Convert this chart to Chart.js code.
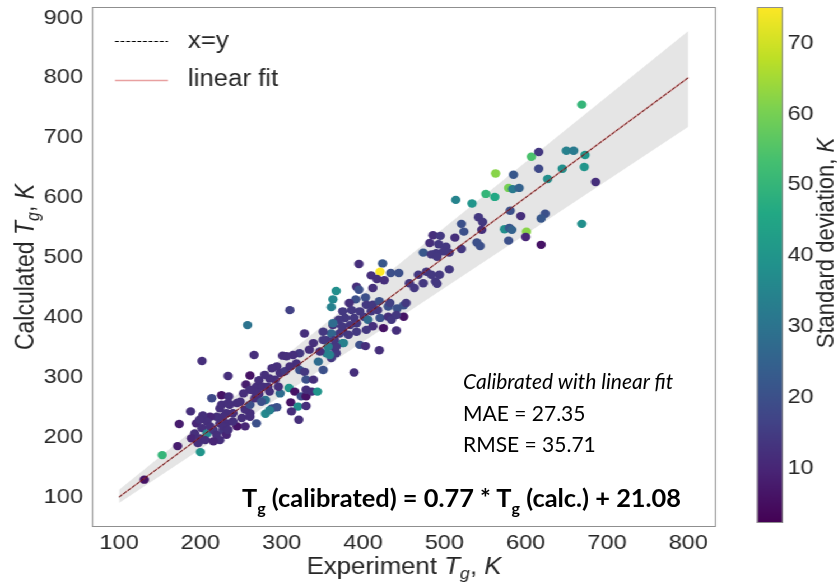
<!DOCTYPE html>
<html>
<head>
<meta charset="utf-8">
<script src="https://cdn.jsdelivr.net/npm/chart.js@4.4.1/dist/chart.umd.min.js"></script>
<style>
    html, body { margin: 0; padding: 0; background: #fff; }
    body { width: 838px; height: 584px; position: relative; overflow: hidden; }
    /* the matplotlib part of the figure is stretched sideways, so draw narrow and scale */
    #stretch { position: absolute; left: 0; top: 0; width: 748px; height: 584px; transform: scaleX(1.1203); transform-origin: 0 0; }
    #stretch canvas { position: absolute; left: 0; top: 0; }
    .note { position: absolute; font-family: Lato, 'Open Sans', sans-serif; color: #000; white-space: nowrap; height: 30px; line-height: 30px; }
    .sub { font-size: 16px; position: relative; top: 7px; }
</style>
</head>
<body>
<div id="stretch">
    <canvas id="plot" width="748" height="584"></canvas>
    <canvas id="cbar" width="748" height="584"></canvas>
</div>
<div class="note" style="left:463px; top:366px; font-size:21px; font-style:italic;">Calibrated with linear fit</div>
<div class="note" style="left:463px; top:398px; font-size:21px;">MAE = 27.35</div>
<div class="note" style="left:463px; top:429px; font-size:21px;">RMSE = 35.71</div>
<div class="note" style="left:242px; top:482px; font-size:25.4px; font-weight:bold;">T<span class="sub">g</span> (calibrated) = 0.77 * T<span class="sub">g</span> (calc.) + 21.08</div>
<script>
// Experiment Tg (x), calculated Tg (y), standard deviation (colour)
const expTg = [
    131, 153, 200, 172, 174, 188, 214, 226, 235, 256, 269, 280, 280, 269, 261, 245, 251, 245, 232, 224,
    220, 212, 203, 208, 195, 202, 193, 189, 199, 208, 206, 216, 220, 224, 216, 228, 232, 240, 224, 212,
    197, 232, 255, 240, 226, 236,
    258, 202, 266, 234, 261, 272, 234, 199, 228, 228, 255, 261, 267, 272, 267, 275, 285, 277, 288, 294,
    285, 261, 298, 296, 292, 285, 298, 304, 301, 309, 316, 311, 320, 312, 321, 330, 324, 330, 330, 337,
    344, 328, 318, 310, 322, 328, 330, 339, 345, 351, 355, 347, 361, 367, 363, 375, 363, 375, 355, 339,
    334, 322, 314, 306, 294, 288, 279, 283, 261, 253, 249, 234,
    395, 424, 421, 410, 417, 426, 434, 444, 367, 363, 361, 392, 395, 412, 403, 391, 383, 375, 386, 396,
    404, 412, 420, 418, 410, 401, 389, 378, 370, 363, 374, 384, 392, 406, 421, 431, 433, 431, 442, 450,
    450, 435, 425, 441, 412, 404, 392, 382, 371, 361, 365, 376, 367, 357, 359, 396, 403, 420, 351, 351,
    310, 478, 484, 474, 468, 482, 490, 474, 489, 453, 486, 495, 493, 502, 499, 484, 491, 494, 506, 457,
    463, 491, 441, 389,
    669, 607, 616, 650, 659, 673, 563, 585, 616, 645, 672, 627, 686, 579, 584, 592, 514, 534, 551, 562,
    581, 542, 547, 521, 594, 624, 619, 669, 513, 524, 546, 574, 580, 583, 601, 600, 619, 521, 540, 544,
    579, 506
];
const calcTg = [
    129, 170, 175, 185, 222, 243, 265, 270, 268, 288, 284, 262, 239, 223, 240, 257, 232, 218, 240, 248,
    234, 234, 236, 226, 223, 215, 206, 198, 198, 206, 195, 212, 204, 195, 193, 212, 223, 226, 223, 218,
    190, 204, 218, 240, 254, 254,
    387, 327, 337, 302, 303, 295, 257, 229, 234, 218, 246, 254, 265, 272, 276, 259, 276, 284, 248, 250,
    245, 234, 273, 284, 296, 298, 307, 310, 336, 282, 276, 258, 251, 243, 229, 252, 268, 268, 279, 276,
    276, 373, 323, 318, 312, 309, 296, 296, 326, 312, 340, 343, 332, 340, 351, 357, 387, 379, 362, 357,
    346, 340, 337, 335, 318, 315, 304, 284, 279, 273, 259, 212,
    489, 490, 476, 470, 464, 462, 474, 474, 444, 430, 417, 451, 446, 449, 433, 430, 424, 410, 412, 410,
    421, 421, 427, 412, 410, 401, 399, 399, 396, 390, 385, 387, 390, 396, 399, 418, 424, 401, 415, 420,
    401, 396, 382, 378, 385, 379, 376, 371, 373, 373, 362, 357, 351, 351, 337, 354, 352, 345, 362, 376,
    412, 476, 471, 457, 471, 524, 507, 508, 460, 424, 537, 536, 522, 518, 510, 505, 501, 471, 480, 457,
    449, 456, 404, 308,
    755, 668, 676, 678, 678, 671, 640, 638, 648, 648, 651, 631, 626, 616, 614, 616, 596, 590, 606, 601,
    578, 567, 559, 556, 569, 573, 565, 556, 533, 543, 546, 547, 549, 546, 543, 534, 521, 514, 525, 519,
    528, 508
];
const stdDev = [
    6, 50, 40, 8, 8, 12, 18, 6, 12, 8, 12, 30, 36, 20, 12, 12, 12, 6, 12, 12,
    12, 10, 12, 12, 10, 12, 12, 10, 12, 36, 12, 14, 12, 12, 10, 14, 12, 12, 12, 12,
    12, 10, 10, 12, 12, 12,
    30, 12, 12, 12, 6, 12, 12, 12, 12, 12, 12, 20, 12, 12, 12, 20, 12, 12, 20, 20,
    34, 12, 28, 12, 12, 12, 12, 14, 12, 40, 6, 6, 38, 12, 12, 12, 20, 6, 12, 12,
    40, 12, 12, 12, 20, 14, 20, 12, 28, 20, 34, 12, 14, 14, 14, 34, 12, 12, 14, 12,
    12, 14, 12, 12, 12, 12, 12, 12, 12, 12, 12, 12,
    12, 22, 75, 12, 12, 12, 20, 20, 38, 36, 34, 12, 20, 12, 20, 20, 12, 14, 14, 14,
    14, 14, 20, 14, 14, 14, 14, 14, 14, 28, 14, 14, 14, 28, 20, 20, 16, 12, 20, 20,
    6, 14, 6, 12, 12, 14, 14, 14, 14, 26, 14, 34, 14, 34, 34, 20, 12, 12, 14, 14,
    16, 14, 14, 14, 14, 12, 14, 22, 14, 14, 12, 14, 14, 14, 14, 14, 14, 14, 14, 14,
    14, 14, 14, 12,
    50, 54, 14, 34, 32, 40, 62, 22, 18, 38, 40, 38, 12, 60, 32, 25, 35, 40, 50, 46,
    20, 14, 14, 20, 12, 20, 22, 38, 12, 20, 12, 38, 22, 25, 62, 10, 6, 14, 20, 20,
    20, 14
];

// x=y reference, linear fit and the grey band around it
const lineX = [100, 800];
const identityY = [100, 800];
const fitY = [100, 800];
const bandLow = [90, 718];
const bandHigh = [112, 878];

const xTicks = [100, 200, 300, 400, 500, 600, 700, 800];
const yTicks = [100, 200, 300, 400, 500, 600, 700, 800, 900];
const cbTicks = [10, 20, 30, 40, 50, 60, 70];
const cbMin = 2.2, cbMax = 75.1;

// viridis colormap stops
const VIRIDIS = ['#440154', '#482475', '#414487', '#355f8d', '#2a788e', '#21918c',
    '#22a884', '#44bf70', '#7ad151', '#bddf26', '#fde725'];

function hexRgb(h) {
    return [parseInt(h.slice(1, 3), 16), parseInt(h.slice(3, 5), 16), parseInt(h.slice(5, 7), 16)];
}

function viridis(t) {
    t = Math.max(0, Math.min(1, t));
    const f = t * 10;
    const i = Math.min(9, Math.floor(f));
    const r = f - i;
    const a = hexRgb(VIRIDIS[i]), b = hexRgb(VIRIDIS[i + 1]);
    const c = a.map((v, k) => Math.round(v + (b[k] - v) * r));
    return `rgb(${c[0]}, ${c[1]}, ${c[2]})`;
}

const SX = 838 / 748;          // horizontal stretch of the figure
const cx = v => v / SX;        // screen x -> canvas x
const FONT = "'Liberation Sans', Arial, sans-serif";
const TEXT = '#262626';
const FRAME = '#8f8f8f';
const FIT_COLOR = 'rgba(205, 45, 45, 0.45)';

Chart.defaults.font.family = FONT;
Chart.defaults.color = TEXT;

// scales must not push the plot area inward for half-label room
function noEdgePadding(s) {
    s.paddingTop = 0;
    s.paddingBottom = 0;
    s.paddingLeft = 0;
    s.paddingRight = 0;
}

// text with italic / subscript parts, e.g. "Experiment T_g, K"
function richParts(prefix, size) {
    return [
        { t: prefix, font: `${size}px ${FONT}`, dy: 0 },
        { t: 'T', font: `italic ${size}px ${FONT}`, dy: 0 },
        { t: 'g', font: `italic ${Math.round(size * 0.7)}px ${FONT}`, dy: size * 0.22 },
        { t: ', ', font: `${size}px ${FONT}`, dy: 0 },
        { t: 'K', font: `italic ${size}px ${FONT}`, dy: 0 }
    ];
}

function drawRich(ctx, parts, x, y) {
    let w = 0;
    parts.forEach(p => { ctx.font = p.font; w += ctx.measureText(p.t).width; });
    let pos = x - w / 2;
    parts.forEach(p => {
        ctx.font = p.font;
        ctx.fillText(p.t, pos, y + p.dy);
        pos += ctx.measureText(p.t).width;
    });
}

function colorbarParts(size) {
    return [
        { t: 'Standard deviation, ', font: `${size}px ${FONT}`, dy: 0 },
        { t: 'K', font: `italic ${size}px ${FONT}`, dy: 0 }
    ];
}

const decorPlugin = {
    id: 'decor',
    afterDraw(chart) {
        const { ctx, chartArea } = chart;
        ctx.save();

        // frame
        ctx.strokeStyle = FRAME;
        ctx.lineWidth = 1;
        ctx.strokeRect(chartArea.left + 0.5, chartArea.top + 0.5,
            chartArea.right - chartArea.left - 1, chartArea.bottom - chartArea.top - 1);

        // legend
        ctx.lineWidth = 1;
        ctx.strokeStyle = '#000';
        ctx.setLineDash([3.4, 1.6]);
        ctx.beginPath();
        ctx.moveTo(cx(115), 41.5);
        ctx.lineTo(cx(168), 41.5);
        ctx.stroke();
        ctx.setLineDash([]);
        ctx.strokeStyle = FIT_COLOR;
        ctx.lineWidth = 1.5;
        ctx.beginPath();
        ctx.moveTo(cx(115), 80.5);
        ctx.lineTo(cx(168), 80.5);
        ctx.stroke();
        ctx.fillStyle = TEXT;
        ctx.font = `23px ${FONT}`;
        ctx.textBaseline = 'middle';
        ctx.textAlign = 'left';
        ctx.fillText('x=y', cx(188), 42);
        ctx.fillText('linear fit', cx(188), 80);

        // axis titles
        ctx.textBaseline = 'alphabetic';
        drawRich(ctx, richParts('Experiment ', 23), (chartArea.left + chartArea.right) / 2, 574);
        ctx.translate(cx(34), (chartArea.top + chartArea.bottom) / 2);
        ctx.rotate(-Math.PI / 2);
        drawRich(ctx, richParts('Calculated ', 23), 0, 0);
        ctx.restore();
    }
};

const colorbarPlugin = {
    id: 'colorbar',
    beforeDatasetsDraw(chart) {
        const { ctx, chartArea } = chart;
        const y = chart.scales.y;
        const top = y.getPixelForValue(cbMax), bottom = y.getPixelForValue(cbMin);
        const grad = ctx.createLinearGradient(0, bottom, 0, top);
        VIRIDIS.forEach((c, i) => grad.addColorStop(i / (VIRIDIS.length - 1), c));
        ctx.save();
        ctx.fillStyle = grad;
        ctx.fillRect(chartArea.left, top, chartArea.right - chartArea.left, bottom - top);
        ctx.strokeStyle = FRAME;
        ctx.lineWidth = 1;
        ctx.strokeRect(chartArea.left + 0.5, top + 0.5, chartArea.right - chartArea.left - 1, bottom - top - 1);

        ctx.fillStyle = TEXT;
        ctx.textBaseline = 'alphabetic';
        ctx.translate(cx(834), 243);
        ctx.rotate(-Math.PI / 2);
        drawRich(ctx, colorbarParts(22), 0, 0);
        ctx.restore();
    }
};

const points = expTg.map((x, i) => ({ x: x, y: calcTg[i] }));
const pointColors = stdDev.map(s => viridis((s - cbMin) / (cbMax - cbMin)));

const tickFont = { size: 21, family: FONT };

new Chart(document.getElementById('plot'), {
    type: 'scatter',
    data: {
        datasets: [
            {
                type: 'line',
                label: 'linear fit',
                data: lineX.map((x, i) => ({ x: x, y: fitY[i] })),
                borderColor: FIT_COLOR,
                borderWidth: 1.5,
                pointRadius: 0,
                fill: false,
                order: 0
            },
            {
                type: 'line',
                label: 'x=y',
                data: lineX.map((x, i) => ({ x: x, y: identityY[i] })),
                borderColor: '#000',
                borderWidth: 1,
                borderDash: [3.4, 1.6],
                pointRadius: 0,
                fill: false,
                order: 1
            },
            {
                label: 'Tg',
                data: points,
                pointBackgroundColor: pointColors,
                backgroundColor: pointColors,
                pointBorderWidth: 0,
                borderWidth: 0,
                pointRadius: 4.2,
                order: 2
            },
            {
                type: 'line',
                label: 'band high',
                data: lineX.map((x, i) => ({ x: x, y: bandHigh[i] })),
                borderWidth: 0,
                borderColor: 'rgba(0,0,0,0)',
                backgroundColor: '#e5e5e5',
                pointRadius: 0,
                fill: '+1',
                order: 3
            },
            {
                type: 'line',
                label: 'band low',
                data: lineX.map((x, i) => ({ x: x, y: bandLow[i] })),
                borderWidth: 0,
                borderColor: 'rgba(0,0,0,0)',
                pointRadius: 0,
                fill: false,
                order: 4
            }
        ]
    },
    options: {
        responsive: false,
        devicePixelRatio: 1,
        animation: false,
        events: [],
        layout: { padding: { left: 0, top: 7, right: 748 - cx(716), bottom: 0 } },
        plugins: { legend: { display: false }, tooltip: { enabled: false } },
        scales: {
            x: {
                type: 'linear',
                min: 66.7,
                max: 834,
                afterBuildTicks: s => { s.ticks = xTicks.map(v => ({ value: v })); },
                afterFit: s => { s.height = 584 - 527; noEdgePadding(s); },
                grid: { display: false, drawTicks: false },
                border: { display: false },
                ticks: { font: tickFont, color: TEXT, padding: 4, maxRotation: 0 }
            },
            y: {
                type: 'linear',
                min: 50,
                max: 918,
                afterBuildTicks: s => { s.ticks = yTicks.map(v => ({ value: v })); },
                afterFit: s => { s.width = cx(92); noEdgePadding(s); },
                grid: { display: false, drawTicks: false },
                border: { display: false },
                ticks: { font: tickFont, color: TEXT, padding: 8 }
            }
        }
    },
    plugins: [decorPlugin]
});

new Chart(document.getElementById('cbar'), {
    type: 'scatter',
    data: { datasets: [] },
    options: {
        responsive: false,
        devicePixelRatio: 1,
        animation: false,
        events: [],
        layout: { padding: { left: cx(757), top: 7, right: 0, bottom: 584 - 523 } },
        plugins: { legend: { display: false }, tooltip: { enabled: false } },
        scales: {
            x: { display: false, min: 0, max: 1 },
            y: {
                position: 'right',
                min: cbMin,
                max: cbMax,
                afterBuildTicks: s => { s.ticks = cbTicks.map(v => ({ value: v })); },
                afterFit: s => { s.width = 748 - cx(783); noEdgePadding(s); },
                grid: { display: false, drawTicks: false },
                border: { display: false },
                ticks: { font: tickFont, color: TEXT, padding: 4 }
            }
        }
    },
    plugins: [colorbarPlugin]
});
</script>
</body>
</html>
